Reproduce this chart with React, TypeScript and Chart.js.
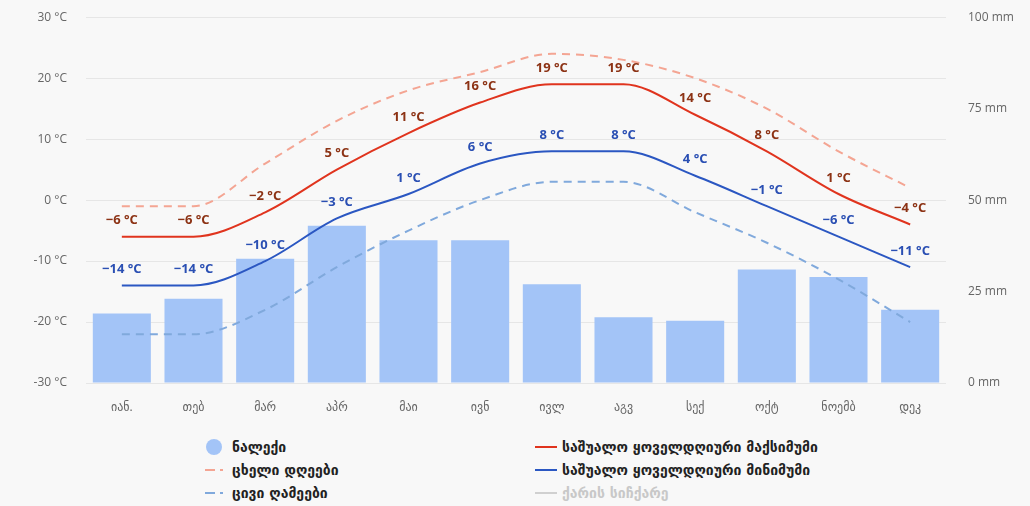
import React, { useEffect, useRef } from "react";
import { Chart, registerables } from "chart.js";

Chart.register(...registerables);

const months = ["იან.", "თებ", "მარ", "აპრ", "მაი", "ივნ", "ივლ", "აგვ", "სექ", "ოქტ", "ნოემბ", "დეკ"];
const precipitation = [19, 23, 34, 43, 39, 39, 27, 18, 17, 31, 29, 20];
const avgMax = [-6, -6, -2, 5, 11, 16, 19, 19, 14, 8, 1, -4];
const avgMin = [-14, -14, -10, -3, 1, 6, 8, 8, 4, -1, -6, -11];
const hotDays = [-1, -1, 6, 13, 18, 21, 24, 23, 20, 15, 8, 2];
const coldNights = [-22, -22, -18, -11, -5, 0, 3, 3, -2, -7, -13, -20];
const tempTicks = [-30, -20, -10, 0, 10, 20, 30];
const mmTicks = [0, 25, 50, 75, 100];

const legendLeft = [
  { label: "ნალექი", kind: "circle", color: "#a3c4f7" },
  { label: "ცხელი დღეები", kind: "dash", color: "#f4a593" },
  { label: "ცივი ღამეები", kind: "dash", color: "#80a9dc" },
];
const legendRight = [
  { label: "საშუალო ყოველდღიური მაქსიმუმი", kind: "line", color: "#e0341e" },
  { label: "საშუალო ყოველდღიური მინიმუმი", kind: "line", color: "#2b57c2" },
  { label: "ქარის სიჩქარე", kind: "line", color: "#d0d0d0", muted: true },
];

const fmt = (v: number) => (v < 0 ? "\u2212" + Math.abs(v) : String(v)) + " \u00b0C";

const labelPlugin = {
  id: "pointLabels",
  afterDatasetsDraw(chart: any) {
    const ctx = chart.ctx;
    chart.data.datasets.forEach((ds: any, i: number) => {
      if (!ds.labelColor) return;
      const meta = chart.getDatasetMeta(i);
      if (meta.hidden) return;
      ctx.save();
      ctx.font = "bold 13px 'Open Sans', 'DejaVu Sans', sans-serif";
      ctx.fillStyle = ds.labelColor;
      ctx.textAlign = "center";
      ctx.textBaseline = "middle";
      meta.data.forEach((pt: any, j: number) => {
        ctx.fillText(fmt(ds.data[j]), pt.x, pt.y - 16);
      });
      ctx.restore();
    });
  },
};

function Marker({ kind, color }: { kind: string; color: string }) {
  if (kind === "circle") {
    return (
      <svg width="24" height="18" style={{ display: "block" }}>
        <circle cx="11" cy="9" r="8" fill={color} />
      </svg>
    );
  }
  if (kind === "dash") {
    return (
      <svg width="24" height="18" style={{ display: "block" }}>
        <line x1="2" y1="9" x2="12" y2="9" stroke={color} strokeWidth="2" />
        <line x1="17" y1="9" x2="20" y2="9" stroke={color} strokeWidth="2" />
      </svg>
    );
  }
  return (
    <svg width="24" height="18" style={{ display: "block" }}>
      <line x1="1" y1="9" x2="23" y2="9" stroke={color} strokeWidth="2" />
    </svg>
  );
}

export default function App() {
  const ref = useRef<HTMLCanvasElement>(null);

  useEffect(() => {
    if (!ref.current) return;
    const chart = new Chart(ref.current, {
      type: "bar",
      data: {
        labels: months,
        datasets: [
          {
            type: "line",
            label: "საშუალო ყოველდღიური მაქსიმუმი",
            data: avgMax,
            borderColor: "#e0341e",
            borderWidth: 2,
            pointRadius: 0,
            cubicInterpolationMode: "monotone",
            yAxisID: "y",
            order: 1,
            labelColor: "#8c3214",
          } as any,
          {
            type: "line",
            label: "საშუალო ყოველდღიური მინიმუმი",
            data: avgMin,
            borderColor: "#2b57c2",
            borderWidth: 2,
            pointRadius: 0,
            cubicInterpolationMode: "monotone",
            yAxisID: "y",
            order: 2,
            labelColor: "#2a4fb3",
          } as any,
          {
            type: "line",
            label: "ცხელი დღეები",
            data: hotDays,
            borderColor: "#f4a593",
            borderWidth: 2,
            borderDash: [8, 6],
            pointRadius: 0,
            cubicInterpolationMode: "monotone",
            yAxisID: "y",
            order: 3,
          } as any,
          {
            type: "line",
            label: "ცივი ღამეები",
            data: coldNights,
            borderColor: "#80a9dc",
            borderWidth: 2,
            borderDash: [8, 6],
            pointRadius: 0,
            cubicInterpolationMode: "monotone",
            yAxisID: "y",
            order: 4,
          } as any,
          {
            type: "bar",
            label: "ნალექი",
            data: precipitation,
            backgroundColor: "#a3c4f7",
            barPercentage: 0.81,
            categoryPercentage: 1,
            yAxisID: "y1",
            order: 10,
          } as any,
        ],
      },
      options: {
        animation: false,
        responsive: false,
        maintainAspectRatio: false,
        layout: { padding: { top: 9, left: 0, right: 0, bottom: 0 } },
        plugins: {
          legend: { display: false },
          tooltip: { enabled: false },
        },
        scales: {
          x: {
            grid: { display: false, drawTicks: false },
            border: { display: false },
            ticks: {
              color: "#666",
              font: { size: 12, family: "'Open Sans', 'DejaVu Sans', sans-serif" },
              padding: 17,
              maxRotation: 0,
            },
            afterFit: (s: any) => {
              s.height = 37;
            },
          },
          y: {
            position: "left",
            min: -30,
            max: 30,
            afterBuildTicks: (s: any) => {
              s.ticks = tempTicks.map((v) => ({ value: v }));
            },
            grid: { color: "#e6e6e6", drawTicks: false, lineWidth: 1 },
            border: { display: false },
            ticks: {
              color: "#666",
              font: { size: 12, family: "'Open Sans', 'DejaVu Sans', sans-serif" },
              padding: 19,
              callback: (v: any) => v + " \u00b0C",
            },
            afterFit: (s: any) => {
              s.width = 86;
            },
          },
          y1: {
            position: "right",
            min: 0,
            max: 100,
            afterBuildTicks: (s: any) => {
              s.ticks = mmTicks.map((v) => ({ value: v }));
            },
            grid: { drawOnChartArea: false, drawTicks: false },
            border: { display: false },
            ticks: {
              color: "#666",
              font: { size: 12, family: "'Open Sans', 'DejaVu Sans', sans-serif" },
              padding: 22,
              callback: (v: any) => v + " mm",
            },
            afterFit: (s: any) => {
              s.width = 84;
            },
          },
        },
      },
      plugins: [labelPlugin],
    });
    return () => chart.destroy();
  }, []);

  const itemStyle: React.CSSProperties = {
    position: "absolute",
    display: "flex",
    alignItems: "center",
    height: 18,
    fontSize: 14,
    fontWeight: "bold",
    fontFamily: "'DejaVu Sans', sans-serif",
    color: "#222",
    whiteSpace: "nowrap",
  };
  const rowsY = [438, 461, 484];

  return (
    <div style={{ position: "relative", width: 1030, height: 506, background: "#f8f8f8", overflow: "hidden" }}>
      <style>{`body{margin:0;background:#f8f8f8}`}</style>
      <canvas
        ref={ref}
        width={1030}
        height={432}
        style={{ display: "block", position: "absolute", left: 0, top: -12 }}
      />
      {legendLeft.map((it, i) => (
        <div key={it.label} style={{ ...itemStyle, left: 203, top: rowsY[i] }}>
          <Marker kind={it.kind} color={it.color} />
          <span style={{ marginLeft: 5 }}>{it.label}</span>
        </div>
      ))}
      {legendRight.map((it, i) => (
        <div key={it.label} style={{ ...itemStyle, left: 534, top: rowsY[i], color: it.muted ? "#c8c8c8" : "#222" }}>
          <Marker kind={it.kind} color={it.color} />
          <span style={{ marginLeft: 4 }}>{it.label}</span>
        </div>
      ))}
    </div>
  );
}
